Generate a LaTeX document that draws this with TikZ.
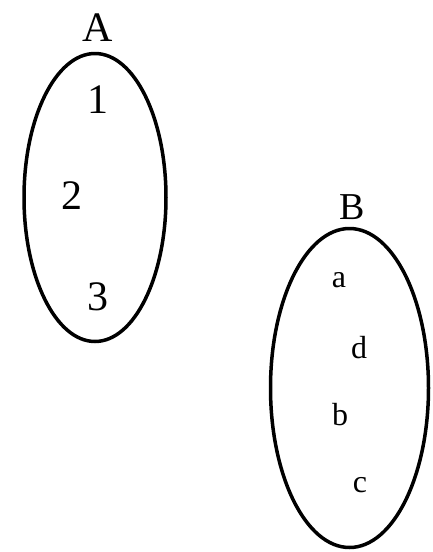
\documentclass[tikz,border=0pt]{standalone}
\usepackage{fontspec}
\setmainfont{Liberation Serif}
\begin{document}
\begin{tikzpicture}[x=1pt,y=-1pt,
  setline/.style={line width=3.5pt},
  bigtxt/.style={inner sep=0pt,font=\fontsize{42}{42}\selectfont},
  midtxt/.style={inner sep=0pt,font=\fontsize{38}{38}\selectfont},
  smalltxt/.style={inner sep=0pt,font=\fontsize{32}{32}\selectfont}]
\useasboundingbox (0,0) rectangle (433,552);
\draw[setline] (95,197.5) ellipse [x radius=71, y radius=144];
\draw[setline] (349.5,388) ellipse [x radius=79, y radius=159.5];
\node[bigtxt] (lA) at (98,28) {A};
\node[bigtxt] (n1) at (98,100) {1};
\node[bigtxt] (n2) at (72,196) {2};
\node[bigtxt] (n3) at (98,297) {3};
\node[midtxt] (lB) at (352,207) {B};
\node[smalltxt] (na) at (339,280) {a};
\node[smalltxt] (nd) at (359,348) {d};
\node[smalltxt] (nb) at (340,415) {b};
\node[smalltxt] (nc) at (360,485) {c};
\end{tikzpicture}
\end{document}
